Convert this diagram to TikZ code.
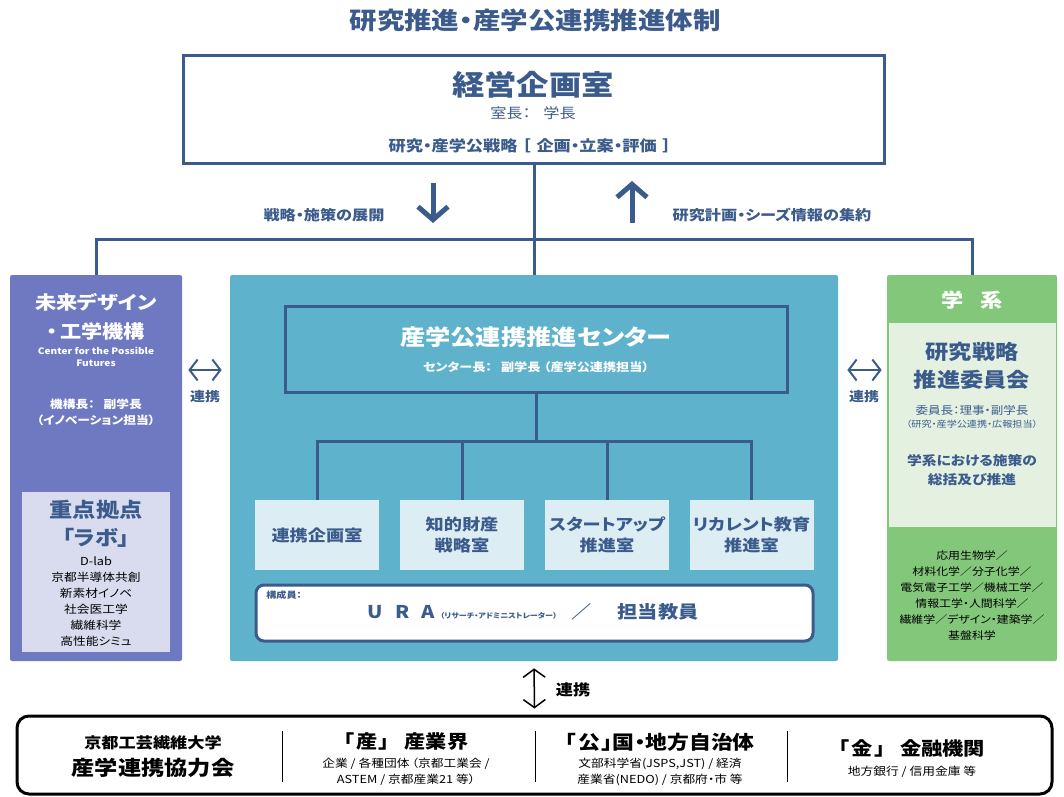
\documentclass[tikz,border=0pt]{standalone}
\usepackage{fontspec}
\setmainfont{Noto Sans CJK JP}[FakeStretch=1.15, RawFeature=+palt]
\usepackage{tikz}
\usetikzlibrary{arrows.meta,positioning}
\definecolor{cLine}{HTML}{3B5B8C}
\definecolor{cMfe}{HTML}{6F79C1}
\definecolor{cLab}{HTML}{D9DCEF}
\definecolor{cCtr}{HTML}{5EB2CC}
\definecolor{cRoom}{HTML}{DCEEF4}
\definecolor{cGak}{HTML}{83C77B}
\definecolor{cGakIn}{HTML}{E4F1E1}
\newcommand\pxu{0.02cm}
\newcommand\fz[2]{\fontsize{#1pt}{#2pt}\selectfont}
\tikzset{
  frame/.style   = {rectangle, draw=#1, line width=3*\pxu, inner sep=0pt},
  frame/.default = cLine,
  panel/.style   = {rectangle, rounded corners=1.2pt, fill=#1, inner sep=0pt},
  room/.style    = {rectangle, fill=cRoom, inner sep=0pt, minimum width=124*\pxu,
                    minimum height=70*\pxu, align=center, text=cLine, font=\fz{9}{12}\bfseries},
  txt/.style     = {align=center, inner sep=0pt, text=cLine},
  wtxt/.style    = {align=center, inner sep=0pt, text=white},
  btxt/.style    = {align=center, inner sep=0pt, text=black},
  trunk/.style   = {draw=cLine, line width=3*\pxu},
  link/.style    = {{Straight Barb[length=0.16cm,width=0.42cm]}-{Straight Barb[length=0.16cm,width=0.42cm]},
                    draw=cLine, line width=2*\pxu},
  dlink/.style   = {{Straight Barb[length=0.16cm,width=0.44cm]}-{Straight Barb[length=0.16cm,width=0.44cm]},
                    draw=black, line width=1.5*\pxu},
  flow/.style    = {-{Straight Barb[length=0.26cm,width=0.6cm]}, draw=cLine, line width=5*\pxu},
  sep/.style     = {draw=black, line width=1*\pxu},
}

\begin{document}
\begin{tikzpicture}[x=\pxu, y=-\pxu]
  \useasboundingbox (0,0) rectangle (1064,797);
  \node[txt, font=\fz{13.6}{16}\bfseries] (title) at (535,20) {研究推進・産学公連携推進体制};

  % top: management office
  \node[frame, fill=white, minimum width=701*\pxu, minimum height=108*\pxu] (plan) at (534,110) {};
  \node[txt, font=\fz{16}{18}\bfseries] (planT) at (533,85) {経営企画室};
  \node[txt, font=\fz{8}{10}] (planH) at (533,113) {室長：\hspace{0.9em}学長};
  \node[txt, font=\fz{8.5}{10}\bfseries] (planS) at (530,146)
    {研究・産学公戦略\hspace{0.3em}［\hspace{0.4em}企画・立案・評価\hspace{0.4em}］};

  \coordinate (dnA) at (433,183); \coordinate (dnB) at (433,223);
  \coordinate (upA) at (632,223); \coordinate (upB) at (632,181);
  \draw[flow] (dnA) -- (dnB);
  \draw[flow] (upA) -- (upB);
  \node[txt, font=\fz{8}{10}\bfseries] (dnL) at (324,215) {戦略・施策の展開};
  \node[txt, font=\fz{8}{10}\bfseries] (upL) at (772,215) {研究計画・シーズ情報の集約};

  % left: future design
  \node[panel=cMfe, minimum width=172*\pxu, minimum height=386*\pxu] (mfe) at (96,468) {};
  \node[wtxt, font=\fz{10.5}{16.5}\bfseries] (mfeT) at (96,316.5) {未来デザイン\\・\hspace{0.15em}工学機構};
  \node[wtxt, font=\fz{5}{6.8}\bfseries] (mfeE) at (96,357) {Center for the Possible\\Futures};
  \node[wtxt, font=\fz{6.3}{9.1}\bfseries] (mfeH) at (96,412) {機構長：\hspace{0.8em}副学長\\（イノベーション担当）};
  \node[panel=cLab, rounded corners=0pt, minimum width=148*\pxu, minimum height=160*\pxu] (lab) at (96,572) {};
  \node[txt, font=\fz{11.5}{16}\bfseries] (labT) at (96,524) {重点拠点\\「ラボ」};
  \node[btxt, font=\fz{6.3}{9.2}] (labL) at (96,601.5) {D-lab\\京都半導体共創\\新素材イノベ\\社会医工学\\繊維科学\\高性能シミュ};

  % centre
  \node[panel=cCtr, minimum width=608*\pxu, minimum height=386*\pxu] (sangaku) at (534,468) {};
  \node[frame, minimum width=502*\pxu, minimum height=86*\pxu] (ctr) at (536,349) {};
  \node[wtxt, font=\fz{12.5}{14}\bfseries] (ctrT) at (536,337) {産学公連携推進センター};
  \node[wtxt, font=\fz{6.5}{8}\bfseries] (ctrH) at (536,367) {センター長：\hspace{0.8em}副学長\hspace{0.3em}（産学公連携担当）};
  \coordinate (cbus) at (536,441);
  \node[room] (r1) at (317,535) {連携企画室};
  \node[room] (r2) at (462,535) {知的財産\\戦略室};
  \node[room] (r3) at (607,535) {スタートアップ\\推進室};
  \node[room] (r4) at (751.5,535) {リカレント教育\\推進室};
  \draw[trunk] (ctr.south) -- (cbus);
  \draw[trunk] (r1.north) |- (cbus) -| (r4.north);
  \draw[trunk] (r2.north) -- (r2.north |- cbus);
  \draw[trunk] (r3.north) -- (r3.north |- cbus);
  \node[frame, fill=white, rounded corners=0.16cm, minimum width=557*\pxu, minimum height=56*\pxu] (ura) at (534.5,613) {};
  \node[txt, font=\fz{5}{6}\bfseries, anchor=west] (uraK) at (266,595) {構成員：};
  \node[txt, font=\fz{10}{12}\bfseries] (uraT) at (533,612)
    {U\hspace{0.7em}R\hspace{0.7em}A\hspace{0.3em}{\fz{4}{5}（リサーチ・アドミニストレーター）}\hspace{0.8em}／\hspace{1.5em}担当教員};

  % right: faculties
  \node[panel=cGak, minimum width=170*\pxu, minimum height=386*\pxu] (gakkei) at (972,468) {};
  \node[wtxt, font=\fz{11}{13}\bfseries] (gakT) at (972,300) {学\hspace{0.9em}系};
  \node[panel=cGakIn, rounded corners=0pt, minimum width=167*\pxu, minimum height=204*\pxu] (gin) at (972.5,425) {};
  \node[txt, font=\fz{11.5}{16}\bfseries] (ginT) at (972,366) {研究戦略\\推進委員会};
  \node[txt, font=\fz{6.2}{8}] (ginH) at (972,410) {委員長：理事・副学長};
  \node[txt, font=\fz{5}{6}] (ginR) at (972,424) {（研究・産学公連携・広報担当）};
  \node[txt, font=\fz{7.3}{10.8}\bfseries] (ginS) at (972,470) {学系における施策の\\総括及び推進};
  \node[btxt, font=\fz{5.9}{9.2}] (gakL) at (972,595.5)
    {応用生物学／\\材料化学／分子化学／\\電気電子工学／機械工学／\\情報工学・人間科学／\\繊維学／デザイン・建築学／\\基盤科学};

  \draw[trunk] (plan.south) -- (sangaku.north);
  \draw[trunk] (mfe.north) -- ++(0,-35) -| (gakkei.north);

  \draw[link, shorten <=6*\pxu, shorten >=8*\pxu] ([yshift=98*\pxu]mfe.east) -- ([yshift=98*\pxu]sangaku.west);
  \draw[link, shorten <=9*\pxu, shorten >=5*\pxu] ([yshift=98*\pxu]sangaku.east) -- ([yshift=98*\pxu]gakkei.west);
  \node[txt, font=\fz{7.4}{9}\bfseries] (lnkL) at (205,397) {連携};
  \node[txt, font=\fz{7.4}{9}\bfseries] (lnkR) at (864,397) {連携};

  % bottom: cooperation council
  \node[frame=black, fill=white, rounded corners=0.24cm, minimum width=1035*\pxu, minimum height=78*\pxu] (coop) at (534.5,755) {};
  \draw[dlink, shorten <=7*\pxu, shorten >=6*\pxu] (sangaku.south) -- (coop.north);
  \node[btxt, font=\fz{8.5}{10}\bfseries] (lnkB) at (573,690) {連携};
  \draw[sep] (282,731) -- (282,782);
  \draw[sep] (535,731) -- (535,782);
  \draw[sep] (787,731) -- (787,782);
  \node[btxt, font=\fz{8.5}{10}\bfseries] (kitT) at (153,743) {京都工芸繊維大学};
  \node[btxt, font=\fz{11.5}{13}\bfseries] (kitC) at (153,768) {産学連携協力会};
  \node[btxt, font=\fz{10.5}{12}\bfseries] (indT) at (406,742) {「\hspace{0.1em}産\hspace{0.1em}」\hspace{0.8em}産業界};
  \node[btxt, font=\fz{6.3}{9.1}] (indL) at (406,772) {企業 / 各種団体\hspace{0.2em}（京都工業会 /\\ASTEM / 京都産業21 等）};
  \node[btxt, font=\fz{10.8}{12}\bfseries] (govT) at (660,742) {「\hspace{0.1em}公\hspace{0.1em}」国・地方自治体};
  \node[btxt, font=\fz{6.3}{9.1}] (govL) at (660,772) {文部科学省(JSPS,JST) / 経済\\産業省(NEDO) / 京都府・市 等};
  \node[btxt, font=\fz{10.5}{12}\bfseries] (finT) at (912,748) {「\hspace{0.1em}金\hspace{0.1em}」\hspace{0.8em}金融機関};
  \node[btxt, font=\fz{6.3}{8}] (finL) at (912,772) {地方銀行 / 信用金庫 等};
\end{tikzpicture}
\end{document}
